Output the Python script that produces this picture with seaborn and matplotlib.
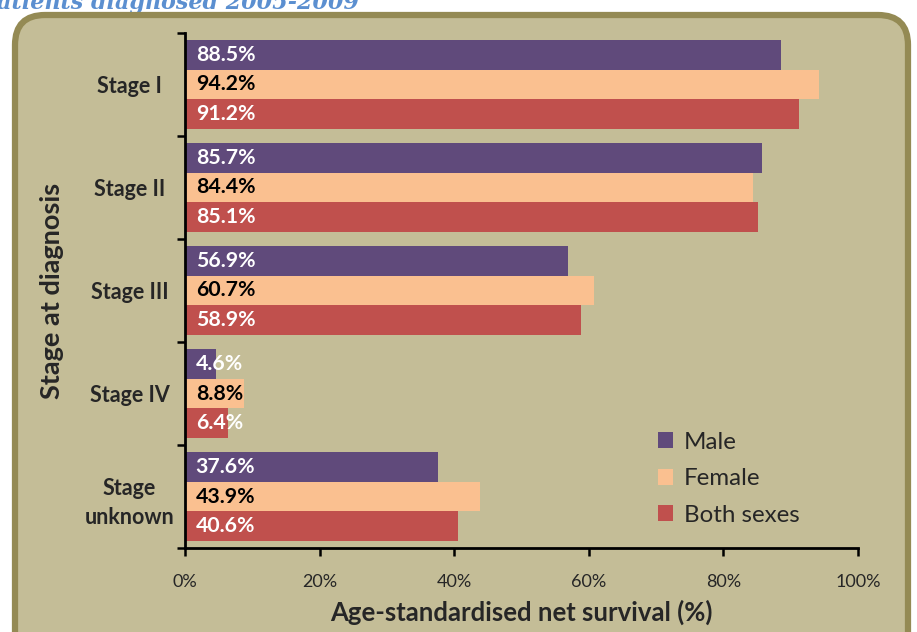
import numpy as np
import pandas as pd
import matplotlib.pyplot as plt
import seaborn as sns
from matplotlib.patches import FancyBboxPatch
from matplotlib.ticker import FixedLocator, FuncFormatter

# ── data ─────────────────────────────────────────────
stages = ["Stage I", "Stage II", "Stage III", "Stage IV", "Stage\nunknown"]
male = [88.5, 85.7, 56.9, 4.6, 37.6]
female = [94.2, 84.4, 60.7, 8.8, 43.9]
both = [91.2, 85.1, 58.9, 6.4, 40.6]
groups = ["Male", "Female", "Both sexes"]

df = pd.DataFrame({
    "stage": stages * 3,
    "group": [g for g in groups for _ in stages],
    "survival": male + female + both,
})

colors = {"Male": "#604A7B", "Female": "#FAC090", "Both sexes": "#C0504D"}
label_colors = ["white", "black", "white"]

sns.set_style("white")
plt.rcParams["font.family"] = ["Lato", "DejaVu Sans"]

fig = plt.figure(figsize=(9.17, 6.32), dpi=100, facecolor="white")
ax = fig.add_axes([0.2017, 0.1329, 0.7340, 0.8149], zorder=2)
ax.set_facecolor("none")

# rounded panel behind the chart
panel = FancyBboxPatch((0.15, -0.6), 8.93, 6.77,
                       boxstyle="round,pad=0,rounding_size=0.3",
                       transform=fig.dpi_scale_trans,
                       facecolor="#C4BD97", edgecolor="#948A54",
                       linewidth=4.5, zorder=-5, clip_on=False)
fig.patches.append(panel)

fig.text(-0.02, 0.986, "Patients diagnosed 2005-2009", ha="left", va="baseline",
         fontsize=16, fontstyle="italic", fontweight="bold", color="#5B8FD0",
         family=["DejaVu Serif"], zorder=-6)

sns.barplot(data=df, y="stage", x="survival", hue="group", order=stages,
            hue_order=groups, palette=colors, orient="h", width=0.86,
            gap=0, saturation=1, ax=ax, legend=True, edgecolor="none")

for cont, tc in zip(ax.containers, label_colors):
    for p in cont:
        yc = p.get_y() + p.get_height() / 2
        ax.text(1.6, yc, f"{p.get_width():.1f}%", ha="left", va="center",
                fontsize=15.3, fontweight="bold", color=tc)

ax.set_xlim(0, 100)
ax.set_ylim(4.5, -0.5)
ax.set_xticks(np.arange(0, 101, 20))
ax.xaxis.set_major_formatter(FuncFormatter(lambda v, _: f"{v:.0f}%"))
ax.yaxis.set_minor_locator(FixedLocator(np.arange(-0.5, 5, 1)))
ax.tick_params(axis="y", which="major", length=0, pad=40, labelsize=15.5)
ax.tick_params(axis="y", which="minor", length=6, width=1.8, direction="out",
               color="black", left=True)
ax.tick_params(axis="x", length=6, width=1.8, direction="out", color="black",
               bottom=True, pad=13, labelsize=13)
for lab in ax.get_yticklabels():
    lab.set_fontweight("bold")
    lab.set_horizontalalignment("center")
    lab.set_linespacing(1.5)

for s in ["top", "right"]:
    ax.spines[s].set_visible(False)
for s in ["left", "bottom"]:
    ax.spines[s].set_color("black")
    ax.spines[s].set_linewidth(2)

ax.set_xlabel("Age-standardised net survival (%)", fontsize=18.5,
              fontweight="bold", labelpad=7)
ax.set_ylabel("Stage at diagnosis", fontsize=19.5, fontweight="bold")
ax.yaxis.set_label_coords(-0.18, 0.5)

handles, labels = ax.get_legend_handles_labels()
ax.legend(handles, labels, loc="upper left", bbox_to_anchor=(0.704, 0.336),
          bbox_transform=fig.transFigure, frameon=False, fontsize=17.4,
          handlelength=0.62, handleheight=0.62, handletextpad=0.45,
          labelspacing=0.64, borderpad=0)

fig.savefig("out.png", dpi=100, facecolor="white")
